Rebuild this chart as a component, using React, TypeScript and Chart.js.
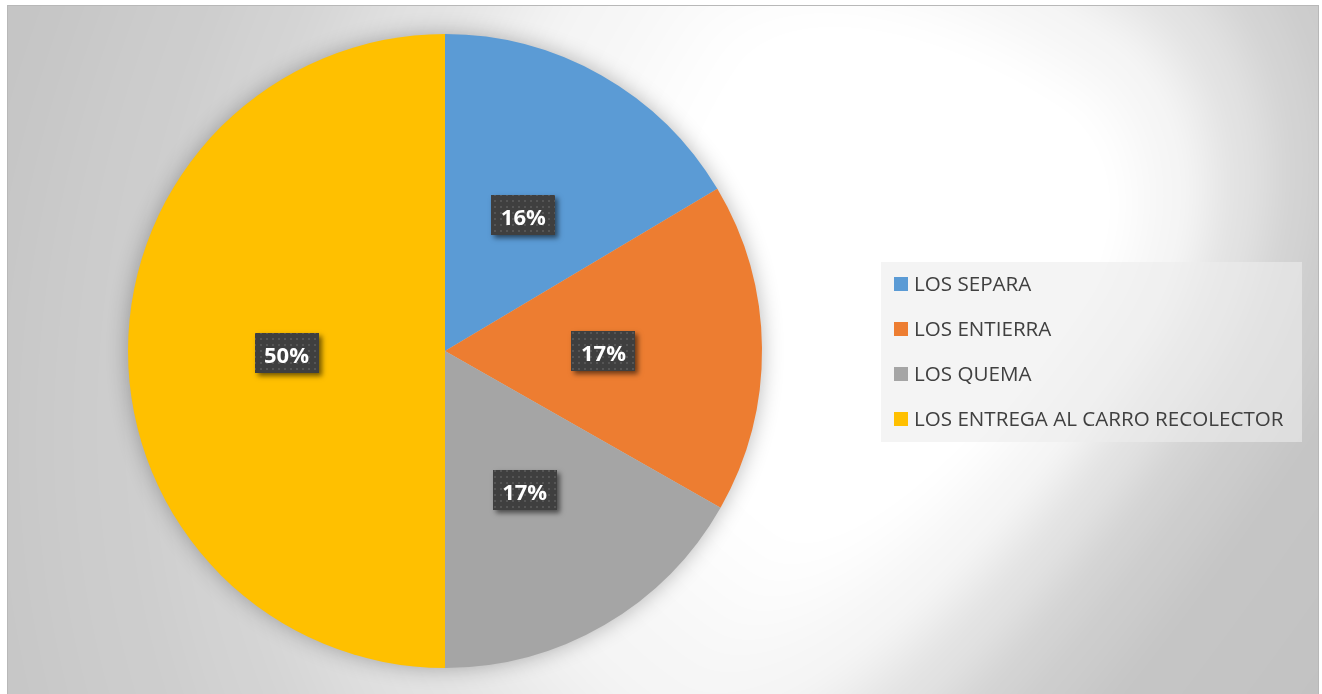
import React, { useEffect, useRef } from "react";
import { Chart, registerables } from "chart.js";

Chart.register(...registerables);

const categories = [
  "LOS SEPARA",
  "LOS ENTIERRA",
  "LOS QUEMA",
  "LOS ENTREGA AL CARRO RECOLECTOR",
];
const shares = [16.45, 16.78, 16.77, 50];
const sliceColors = ["#5B9BD5", "#ED7D31", "#A5A5A5", "#FFC000"];

const W = 1322;
const H = 694;

function makeBackground(): HTMLCanvasElement {
  const c = document.createElement("canvas");
  c.width = W;
  c.height = H;
  const cx = c.getContext("2d")!;
  const img = cx.createImageData(W, H);
  const stops: [number, number][] = [
    [0, 255],
    [0.35, 255],
    [0.56, 245],
    [0.74, 226],
    [0.9, 211],
    [1.0, 205],
    [1.2, 197],
    [2.0, 192],
  ];
  const ccx = 980;
  const ccy = 230;
  const ax = -0.555, ay = 0.832;
  const bx = 0.832, by = 0.555;
  for (let y = 0; y < H; y++) {
    for (let x = 0; x < W; x++) {
      const dx = x - ccx;
      const dy = y - ccy;
      const pa = dx * ax + dy * ay;
      const pb = dx * bx + dy * by;
      const na = pa / (pa > 0 ? 1000 : 400);
      const nb = pb / (pb > 0 ? 330 : 800);
      const d = Math.sqrt(na * na + nb * nb);
      let v = stops[stops.length - 1][1];
      for (let k = 1; k < stops.length; k++) {
        if (d <= stops[k][0]) {
          const [d0, v0] = stops[k - 1];
          const [d1, v1] = stops[k];
          const t = (d - d0) / (d1 - d0);
          const s = t * t * (3 - 2 * t);
          v = v0 + (v1 - v0) * (0.5 * t + 0.5 * s);
          break;
        }
      }
      const i = (y * W + x) * 4;
      img.data[i] = v;
      img.data[i + 1] = v;
      img.data[i + 2] = v;
      img.data[i + 3] = 255;
    }
  }
  cx.putImageData(img, 0, 0);
  return c;
}

export default function App() {
  const ref = useRef<HTMLCanvasElement | null>(null);

  useEffect(() => {
    document.body.style.margin = "0";
    const canvas = ref.current;
    if (!canvas) return;

    const bgImage = makeBackground();

    const bgPlugin = {
      id: "bgPlugin",
      beforeDraw(chart: any) {
        const ctx = chart.ctx as CanvasRenderingContext2D;
        ctx.save();
        ctx.fillStyle = "#ffffff";
        ctx.fillRect(0, 0, W, H);
        ctx.drawImage(bgImage, 7, 5, 1312, 689, 7, 5, 1312, 689);
        ctx.strokeStyle = "#b8b8b8";
        ctx.lineWidth = 1;
        ctx.strokeRect(7.5, 5.5, 1311, 700);
        ctx.restore();
      },
    };

    const pieShadowPlugin = {
      id: "pieShadowPlugin",
      beforeDatasetsDraw(chart: any) {
        const ctx = chart.ctx as CanvasRenderingContext2D;
        const arc = chart.getDatasetMeta(0).data[0];
        if (!arc) return;
        const p = arc.getProps(["x", "y", "outerRadius"], true);
        ctx.save();
        ctx.shadowColor = "rgba(0,0,0,0.3)";
        ctx.shadowBlur = 22;
        ctx.fillStyle = "#cccccc";
        ctx.beginPath();
        ctx.arc(p.x, p.y, p.outerRadius - 1, 0, Math.PI * 2);
        ctx.fill();
        ctx.restore();
      },
    };

    const pc = document.createElement("canvas");
    pc.width = 6;
    pc.height = 6;
    const pctx = pc.getContext("2d")!;
    pctx.fillStyle = "#3f3f3f";
    pctx.fillRect(0, 0, 6, 6);
    pctx.fillStyle = "#555555";
    pctx.fillRect(2, 2, 2, 2);

    const labelPlugin = {
      id: "labelPlugin",
      afterDatasetsDraw(chart: any) {
        const ctx = chart.ctx as CanvasRenderingContext2D;
        const meta = chart.getDatasetMeta(0);
        const values = chart.data.datasets[0].data as number[];
        const pattern = ctx.createPattern(pc, "repeat");
        meta.data.forEach((el: any, i: number) => {
          const p = el.getProps(
            ["x", "y", "startAngle", "endAngle", "outerRadius"],
            true
          );
          const mid = (p.startAngle + p.endAngle) / 2;
          const r = p.outerRadius * 0.5;
          const cx = p.x + Math.cos(mid) * r;
          const cy = p.y + Math.sin(mid) * r + 2;
          const bw = 64;
          const bh = 40;
          const bx = Math.round(cx - bw / 2);
          const by = Math.round(cy - bh / 2);
          ctx.save();
          ctx.shadowColor = "rgba(0,0,0,0.55)";
          ctx.shadowBlur = 5;
          ctx.shadowOffsetX = 3;
          ctx.shadowOffsetY = 3;
          ctx.fillStyle = "#404040";
          ctx.fillRect(bx, by, bw, bh);
          ctx.restore();
          ctx.save();
          if (pattern) {
            ctx.fillStyle = pattern;
            ctx.fillRect(bx, by, bw, bh);
          }
          ctx.fillStyle = "#ffffff";
          ctx.font = 'bold 22px "Open Sans"';
          ctx.textAlign = "center";
          ctx.textBaseline = "alphabetic";
          ctx.fillText(Math.round(values[i]) + "%", cx, by + 30);
          ctx.restore();
        });
      },
    };

    const legendPlugin = {
      id: "customLegend",
      afterDraw(chart: any) {
        const ctx = chart.ctx as CanvasRenderingContext2D;
        ctx.save();
        ctx.fillStyle = "rgba(236,236,236,0.6)";
        ctx.fillRect(881, 262, 421, 180);
        const labels = chart.data.labels as string[];
        const colors = chart.data.datasets[0].backgroundColor as string[];
        labels.forEach((lab, i) => {
          const base = 291 + i * 45;
          ctx.fillStyle = colors[i];
          ctx.fillRect(894, base - 14, 14, 14);
          ctx.fillStyle = "#404040";
          ctx.font = '20.6px "Open Sans"';
          ctx.textAlign = "left";
          ctx.textBaseline = "alphabetic";
          ctx.fillText(lab, 914, base);
        });
        ctx.restore();
      },
    };

    const chart = new Chart(canvas, {
      type: "pie",
      data: {
        labels: categories,
        datasets: [
          {
            data: shares,
            backgroundColor: sliceColors,
            borderWidth: 0,
          },
        ],
      },
      options: {
        responsive: false,
        animation: false,
        devicePixelRatio: 1,
        layout: {
          padding: { left: 128, right: 560, top: 34, bottom: 26 },
        },
        plugins: {
          legend: { display: false },
          tooltip: { enabled: false },
          title: { display: false },
        },
      },
      plugins: [bgPlugin, pieShadowPlugin, labelPlugin, legendPlugin],
    } as any);

    return () => {
      chart.destroy();
    };
  }, []);

  return (
    <canvas
      ref={ref}
      width={W}
      height={H}
      style={{ display: "block", width: W, height: H }}
    />
  );
}
